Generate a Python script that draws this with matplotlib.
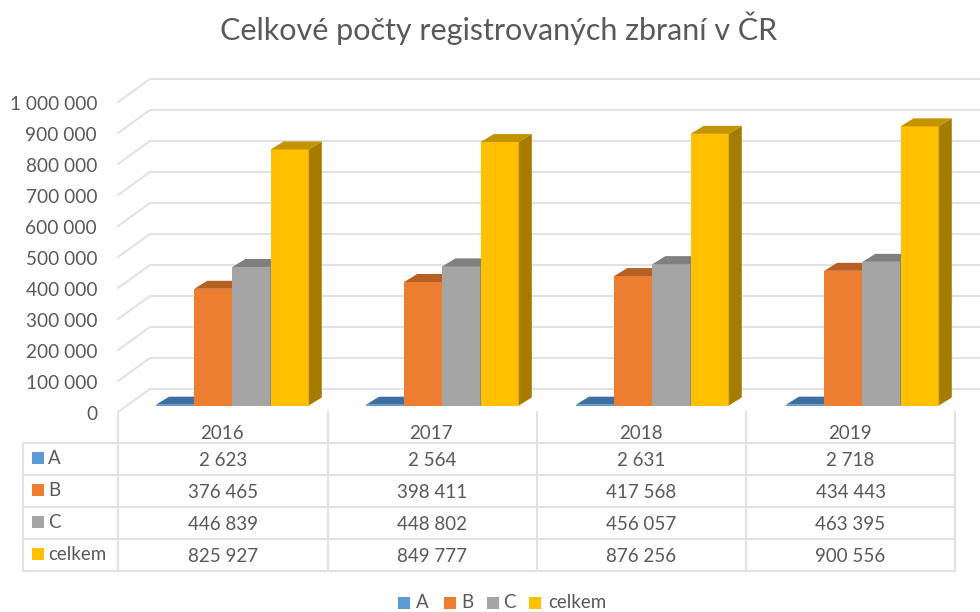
import numpy as np
import matplotlib
matplotlib.use("Agg")
import matplotlib.pyplot as plt
from matplotlib.patches import Polygon

plt.rcParams['font.family'] = ['Lato', 'DejaVu Sans']

# data
years = ['2016', '2017', '2018', '2019']
series_names = ['A', 'B', 'C', 'celkem']
val_a = [2623, 2564, 2631, 2718]
val_b = [376465, 398411, 417568, 434443]
val_c = [446839, 448802, 456057, 463395]
val_total = [825927, 849777, 876256, 900556]
y_ticks = [0, 100000, 200000, 300000, 400000, 500000, 600000, 700000, 800000, 900000, 1000000]

series = [val_a, val_b, val_c, val_total]
front_cols = ['#5b9bd5', '#ed7d31', '#a5a5a5', '#ffc000']
top_cols = ['#3f6f9f', '#b85f24', '#7f7f7f', '#c49400']
side_cols = ['#2f5a85', '#8f4a1c', '#666666', '#a67c00']
text_col = '#595959'
grid_col = '#e2e2e2'

W, H = 980, 612
fig = plt.figure(figsize=(W / 100, H / 100), dpi=100)

# pixel layout of the pseudo 3D chart
GROUP_PX = 210
LEFT_PX = 118
BASE_PX = 405.5
PX_PER_VAL = 31 / 100000

ax = fig.add_axes([0, 0, 1, 1])
ax.set_xlim((0 - LEFT_PX) / GROUP_PX, (W - LEFT_PX) / GROUP_PX)
ax.set_ylim((BASE_PX - H) / PX_PER_VAL, BASE_PX / PX_PER_VAL)
ax.axis('off')


def dx(px):
    return px / GROUP_PX


def dy(px):
    return px / PX_PER_VAL


# walls: grid lines go from the front left edge to the back wall
front_lift = dy(-6.5)
back_lift = dy(16.5)
for t in y_ticks:
    ax.plot([0, dx(32), dx(900)], [t + front_lift, t + back_lift, t + back_lift],
            color=grid_col, lw=1.5, zorder=1, solid_joinstyle='miter')
    ax.text(dx(-21), t + front_lift + dy(-2.5), f"{t:,}".replace(",", " "), ha='right', va='center',
            fontsize=13.7, color=text_col)

# bars
bar_w = 38.2 / GROUP_PX
start = 38 / GROUP_PX
depth_x, depth_y = dx(13), dy(8)
x = np.arange(len(years))
for i, vals in enumerate(series):
    left = x + start + i * bar_w
    ax.bar(left, vals, width=bar_w, align='edge', color=front_cols[i], zorder=3 + i)
    for l, v in zip(left, vals):
        top = [(l, v), (l + bar_w, v), (l + bar_w + depth_x, v + depth_y), (l + depth_x, v + depth_y)]
        side = [(l + bar_w, 0), (l + bar_w + depth_x, depth_y), (l + bar_w + depth_x, v + depth_y), (l + bar_w, v)]
        ax.add_patch(Polygon(top, closed=True, fc=top_cols[i], ec='none', zorder=3 + i))
        ax.add_patch(Polygon(side, closed=True, fc=side_cols[i], ec='none', zorder=3 + i))

# overlay in pixels for the title, data table and legend
ov = fig.add_axes([0, 0, 1, 1])
ov.set_xlim(0, W)
ov.set_ylim(H, 0)
ov.axis('off')
ov.patch.set_alpha(0)

ov.text(499, 28, 'Celkové počty registrovaných zbraní v ČR', ha='center', va='center',
        fontsize=22, color=text_col)

row_y = [443, 475, 507, 539, 571]
col_x = [118, 327.5, 537, 746, 955]
for ry in row_y:
    ov.plot([23, 955], [ry, ry], color=grid_col, lw=1.5, zorder=1)
ov.plot([23, 23], [row_y[0], row_y[-1]], color=grid_col, lw=1.5, zorder=1)
for cx in col_x:
    ov.plot([cx, cx], [412, row_y[-1]], color=grid_col, lw=1.5, zorder=1)

for c, yr in enumerate(years):
    ov.text((col_x[c] + col_x[c + 1]) / 2 - 1, 433.5, yr, ha='center', va='center',
            fontsize=13.5, color=text_col)
for r, name in enumerate(series_names):
    cy = (row_y[r] + row_y[r + 1]) / 2
    ov.scatter([37.5], [cy - 1], marker='s', s=85, color=front_cols[r], zorder=2, linewidths=0)
    ov.text(48, cy, name, ha='left', va='center', fontsize=13.5, color=text_col)
    for c in range(len(years)):
        ov.text((col_x[c] + col_x[c + 1]) / 2, cy + 1, f"{series[r][c]:,}".replace(",", " "),
                ha='center', va='center', fontsize=13.5, color=text_col)

leg_sq = [404, 450, 493, 535]
leg_tx = [416, 461, 503, 548]
for i, name in enumerate(series_names):
    ov.scatter([leg_sq[i]], [603], marker='s', s=85, color=front_cols[i], linewidths=0)
    ov.text(leg_tx[i], 603, name, ha='left', va='center', fontsize=13.5, color=text_col)

fig.savefig('out.png', dpi=100)
